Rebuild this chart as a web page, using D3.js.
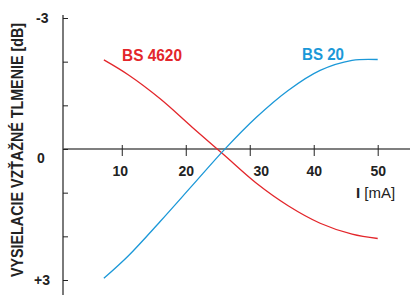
<!DOCTYPE html>
<html>
<head>
<meta charset="utf-8">
<script src="https://cdn.jsdelivr.net/npm/d3@7"></script>
<style>
  body { margin: 0; background: #fff; }
  svg { display: block; font-family: "Liberation Sans", Arial, sans-serif; }
</style>
</head>
<body>
<div id="display"></div>
<script>
// values
const current = [7.2, 11, 16, 21, 26, 31, 36, 41, 46, 50]   // I [mA]
const bs4620 = [-2.04, -1.70, -1.15, -0.50, 0.14, 0.78, 1.30, 1.70, 1.95, 2.05]
const bs20 = [2.96, 2.45, 1.66, 0.84, 0.02, -0.72, -1.34, -1.80, -2.03, -2.05]
const xTicks = [10, 20, 30, 40, 50]
const yTicks = [-3, -2, -1, 0, 1, 2, 3]
const yLabels = [{v: -3, t: '-3'}, {v: 0, t: '0'}, {v: 3, t: '+3'}]

const width = 410, height = 295
const left = 63

const svg = d3.select('#display').append('svg')
    .attr('width', width)
    .attr('height', height)

const xScale = d3.scaleLinear()
    .domain([0, 50])
    .range([57.8, 377.7])

const yScale = d3.scaleLinear()
    .domain([-3, 3])
    .range([18, 280])

const y0 = yScale(0)

// axis lines
svg.append('line')
    .attr('x1', left).attr('x2', left)
    .attr('y1', 15).attr('y2', 295)
    .attr('stroke', '#7a7a7a')
    .attr('stroke-width', 2)

svg.append('line')
    .attr('x1', left).attr('x2', width)
    .attr('y1', y0).attr('y2', y0)
    .attr('stroke', '#555')
    .attr('stroke-width', 1.5)

// x axis ticks
const xAxis = svg.append('g')
    .attr('transform', 'translate(0,' + y0 + ')')
    .call(d3.axisBottom(xScale).tickValues(xTicks).tickSize(7).tickPadding(0))
xAxis.select('.domain').remove()
xAxis.selectAll('.tick line')
    .attr('y1', -4)
    .attr('stroke', '#222')
xAxis.selectAll('.tick text')
    .attr('y', 27)
    .attr('dy', 0)
    .attr('dx', d => d == 30 ? 11 : (d == 10 ? -2 : 0))
    .attr('fill', '#222')
    .style('font-size', '14px')
    .style('font-weight', 'bold')

// y axis ticks
const yAxis = svg.append('g')
    .attr('transform', 'translate(' + left + ',0)')
    .call(d3.axisLeft(yScale).tickValues(yTicks).tickSize(5).tickFormat(''))
yAxis.select('.domain').remove()
yAxis.selectAll('.tick line')
    .attr('x2', 5)
    .attr('stroke', '#222')

svg.selectAll('.ylab').data(yLabels)
    .enter()
    .append('text')
        .attr('class', 'ylab')
        .attr('x', d => d.v == 0 ? 41 : (d.v < 0 ? 48.5 : 50))
        .attr('y', d => yScale(d.v) + (d.v == 0 ? 14 : 5))
        .attr('text-anchor', d => d.v == 0 ? 'middle' : 'end')
        .attr('fill', '#222')
        .style('font-size', '14px')
        .style('font-weight', 'bold')
        .text(d => d.t)

// axis titles
svg.append('text')
    .attr('transform', 'translate(22.5,150) rotate(-90)')
    .attr('text-anchor', 'middle')
    .attr('textLength', 254)
    .attr('lengthAdjust', 'spacingAndGlyphs')
    .attr('fill', '#222')
    .style('font-size', '16px')
    .style('font-weight', 'bold')
    .text('VYSIELACIE VZŤAŽNÉ TLMENIE [dB]')

const xTitle = svg.append('text')
    .attr('x', 356)
    .attr('y', 198)
    .attr('fill', '#222')
    .style('font-size', '15px')
xTitle.append('tspan').style('font-weight', 'bold').text('I')
xTitle.append('tspan').text(' [mA]')

// curves
const line = d3.line()
    .x(d => xScale(d[0]))
    .y(d => yScale(d[1]))
    .curve(d3.curveCatmullRom.alpha(0.5))

const series = [
    {name: 'BS 4620', values: bs4620, color: '#e3262b', lx: 122, ly: 60.5, len: 60},
    {name: 'BS 20', values: bs20, color: '#1b98d8', lx: 302, ly: 60, len: 42}
]

svg.selectAll('.curve').data(series)
    .enter()
    .append('path')
        .attr('class', 'curve')
        .attr('d', d => line(current.map((c, i) => [c, d.values[i]])))
        .attr('fill', 'none')
        .attr('stroke', d => d.color)
        .attr('stroke-width', 1.3)

svg.selectAll('.slab').data(series)
    .enter()
    .append('text')
        .attr('class', 'slab')
        .attr('x', d => d.lx)
        .attr('y', d => d.ly)
        .attr('textLength', d => d.len)
        .attr('lengthAdjust', 'spacingAndGlyphs')
        .attr('fill', d => d.color)
        .style('font-size', '17px')
        .style('font-weight', 'bold')
        .text(d => d.name)
</script>
</body>
</html>
